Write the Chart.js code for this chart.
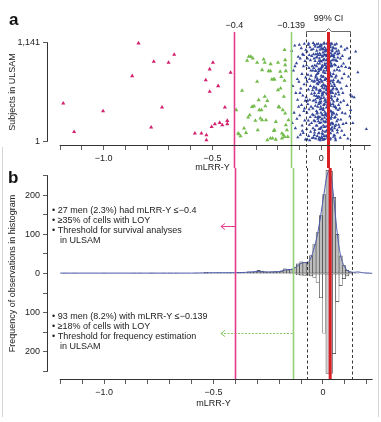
<!DOCTYPE html>
<html><head><meta charset="utf-8">
<script src="https://cdn.jsdelivr.net/npm/chart.js@4.4.1/dist/chart.umd.min.js"></script>
<style>
html,body{margin:0;padding:0;background:#fff;}
#fig{position:relative;width:381px;height:422px;overflow:hidden;font-family:'Liberation Sans',Arial,sans-serif;}
#fig canvas{position:absolute;left:0;top:0;}
.lbl{position:absolute;font-weight:bold;font-size:17px;line-height:17px;color:#111;}
.frame{position:absolute;background:#d6d6d6;width:1px;}
</style></head>
<body>
<div id="fig">
<div class="frame" style="left:2px;top:147px;height:270px"></div>
<div class="frame" style="left:378px;top:0;height:417px"></div>
<canvas id="chartA" width="381" height="185"></canvas>
<canvas id="chartB" width="381" height="422"></canvas>
<div class="lbl" style="left:9px;top:11px">a</div>
<div class="lbl" style="left:8px;top:169px">b</div>
</div>
<script>
// ---------- DATA ----------
const xTicks = [-1.2,-1.1,-1.0,-0.9,-0.8,-0.7,-0.6,-0.5,-0.4,-0.3,-0.2,-0.1,0,0.1,0.2];
const labeledTicks = [-1.0,-0.5,0];
const labeledText = ['\u22121.0','\u22120.5','0'];
const subjectTicks = [1,1141];
const subjectTickText = ['1','1,141'];
const freqTicks = [-250,-200,-150,-100,-50,0,50,100,150,200,250];

const lossThresholds = [-0.4,-0.139];
const thresholdText = ['\u22120.4','\u22120.139'];
const ciBounds = [-0.072,0.134];
const ciText = '99% CI';
const medianLRR = 0.033;

// panel a: subjects (mLRR-Y, subject index)
const magentaX = [-1.186,-1.136,-1.003,-0.869,-0.840,-0.782,-0.770,-0.732,-0.702,-0.676,-0.581,-0.551,-0.528,-0.528,-0.531,-0.513,-0.498,-0.513,-0.474,-0.504,-0.489,-0.467,-0.455,-0.443,-0.432,-0.432,-0.417];
const magentaY = [440,109,350,757,1138,160,924,393,913,1006,90,90,13,71,710,835,913,575,641,167,199,214,187,393,237,200,796];

const greenX = [-0.391,-0.382,-0.371,-0.364,-0.355,-0.346,-0.341,-0.333,-0.324,-0.315,-0.318,-0.309,-0.303,-0.295,-0.295,-0.292,-0.288,-0.285,-0.275,-0.272,-0.265,-0.260,-0.260,-0.257,-0.254,-0.248,-0.242,-0.234,-0.233,-0.227,-0.219,-0.215,-0.248,-0.234,-0.224,-0.215,-0.209,-0.199,-0.199,-0.196,-0.193,-0.189,-0.187,-0.184,-0.181,-0.177,-0.174,-0.169,-0.166,-0.166,-0.163,-0.169,-0.172,-0.166,-0.163,-0.158,-0.154,-0.151,-0.169,-0.181,-0.209,-0.218,-0.272,-0.280,-0.329,-0.336,-0.379];
const greenY = [362,90,59,587,148,98,935,982,982,963,400,408,238,912,691,129,478,362,362,245,951,912,517,408,245,470,815,815,897,718,718,718,13,32,32,129,20,912,594,400,393,808,614,749,32,362,71,1060,943,885,815,703,517,323,187,129,51,245,51,90,226,121,827,265,303,276,82];

const blueX = [
-0.136,-0.131,-0.128,-0.125,-0.122,-0.119,-0.117,-0.114,-0.112,-0.110,-0.108,-0.106,-0.104,-0.103,-0.101,-0.133,-0.121,-0.109,
-0.099,-0.097,-0.096,-0.094,-0.092,-0.091,-0.089,-0.088,-0.086,-0.085,-0.083,-0.082,-0.080,-0.079,-0.078,-0.076,-0.075,-0.074,-0.073,-0.072,-0.071,-0.098,-0.087,-0.081,-0.077,
-0.069,-0.068,-0.067,-0.066,-0.066,-0.065,-0.064,-0.063,-0.062,-0.061,-0.060,-0.060,-0.059,-0.058,-0.057,-0.056,-0.055,-0.055,-0.054,-0.053,-0.052,-0.051,-0.050,-0.050,-0.049,-0.048,-0.047,-0.046,-0.045,-0.045,-0.044,-0.043,-0.042,-0.042,-0.041,-0.040,-0.058,-0.063,-0.047,-0.053,
-0.039,-0.038,-0.037,-0.036,-0.035,-0.034,-0.033,-0.032,-0.031,-0.030,-0.029,-0.028,-0.027,-0.026,-0.025,-0.024,-0.023,-0.022,-0.021,-0.020,-0.019,-0.018,-0.017,-0.016,-0.015,-0.014,-0.013,-0.012,-0.011,-0.010,
-0.0385,-0.0375,-0.0365,-0.0355,-0.0345,-0.0335,-0.0325,-0.0315,-0.0305,-0.0295,-0.0285,-0.0275,-0.0265,-0.0255,-0.0245,-0.0235,-0.0225,-0.0215,-0.0205,-0.0195,-0.0185,-0.0175,-0.0165,-0.0155,-0.0145,-0.0135,-0.0125,-0.0115,-0.0105,-0.0102,
-0.037,-0.034,-0.031,-0.027,-0.024,-0.021,-0.018,-0.015,-0.012,-0.011,
-0.009,-0.008,-0.007,-0.006,-0.005,-0.004,-0.003,-0.002,-0.001,0,0.001,0.002,0.003,0.004,0.005,0.006,0.007,0.008,0.009,0.010,0.011,0.012,0.013,0.014,0.015,0.016,0.017,0.018,0.019,0.020,
-0.0095,-0.0085,-0.0075,-0.0065,-0.0055,-0.0045,-0.0035,-0.0025,-0.0015,-0.0005,0.0005,0.0015,0.0025,0.0035,0.0045,0.0055,0.0065,0.0075,0.0085,0.0095,0.0105,0.0115,0.0125,0.0135,0.0145,0.0155,0.0165,0.0175,0.0185,0.0195,
-0.0087,-0.0077,-0.0067,-0.0057,-0.0047,-0.0037,-0.0027,-0.0017,-0.0007,0.0003,0.0013,0.0023,0.0033,0.0043,0.0053,0.0063,0.0073,0.0083,0.0093,0.0103,0.0113,0.0123,0.0133,0.0143,0.0153,0.0163,0.0173,0.0183,0.0193,0.0203,
0.021,0.022,0.023,0.024,0.025,0.026,0.027,0.028,0.029,0.030,0.031,0.032,0.033,0.034,0.035,0.036,0.037,0.038,0.039,0.040,0.041,0.042,0.043,0.044,0.045,0.046,0.047,0.048,0.049,0.050,
0.0205,0.0215,0.0225,0.0235,0.0245,0.0255,0.0265,0.0275,0.0285,0.0295,0.0305,0.0315,0.0325,0.0335,0.0345,0.0355,0.0365,0.0375,0.0385,0.0395,0.0405,0.0415,0.0425,0.0435,0.0445,0.0455,0.0465,0.0475,0.0485,0.0495,
0.0213,0.0223,0.0233,0.0243,0.0253,0.0263,0.0273,0.0283,0.0293,0.0303,0.0313,0.0323,0.0333,0.0343,0.0353,0.0363,0.0373,0.0383,0.0393,0.0403,0.0413,0.0423,0.0433,0.0443,0.0453,0.0463,0.0473,0.0483,0.0493,0.0503,
0.051,0.052,0.053,0.054,0.055,0.056,0.057,0.058,0.059,0.060,0.061,0.062,0.063,0.064,0.065,0.066,0.067,0.068,0.069,0.070,0.071,0.072,0.073,0.074,0.075,0.076,0.077,0.078,0.079,0.080,
0.0505,0.0515,0.0525,0.0535,0.0545,0.0555,0.0565,0.0575,0.0585,0.0595,0.0605,0.0615,0.0625,0.0635,0.0645,0.0655,0.0665,0.0675,0.0685,0.0695,0.0705,0.0715,0.0725,0.0735,0.0745,0.0755,0.0765,0.0775,0.0785,0.0795,
0.081,0.082,0.083,0.084,0.085,0.086,0.087,0.088,0.089,0.090,0.091,0.092,0.093,0.094,0.095,0.096,0.097,0.099,0.100,0.102,0.103,0.105,0.106,0.108,0.110,
0.112,0.114,0.116,0.118,0.120,0.122,0.125,0.128,0.131,0.134,
0.135,0.142,0.145,0.151,0.158,0.168,0.207,0.128,
-0.0195,-0.0172,-0.0148,-0.0126,-0.0104,-0.0081,-0.0058,-0.0036,-0.0013,0.0009,0.0031,0.0054,0.0077,0.0099,0.0122,0.0144,0.0167,0.0189,0.0211,0.0234,0.0256,0.0279,0.0301,0.0324,0.0346,0.0369,0.0391,0.0414,0.0436,0.0459,
0.0481,0.0503,0.0526,0.0548,0.0571,0.0593,0.0616,-0.0183,-0.0137,-0.0092,-0.0047,-0.0002,0.0043,0.0088,0.0133,0.0178,0.0223,0.0268,0.0313,0.0358,0.0403,0.0448,0.0493,0.0538,0.0583,0.0628,-0.0228,-0.0256,0.0651,0.0674];
const blueY = [
1050,640,820,330,1110,150,560,905,260,720,45,980,400,690,1120,210,870,480,
300,960,75,610,1080,420,780,180,1010,530,95,870,350,660,1130,240,930,470,20,740,1060,560,120,1000,380,
510,880,140,1040,330,690,20,960,430,770,240,1120,600,60,850,370,1000,190,720,480,1090,280,640,940,110,820,400,1060,550,210,990,700,35,870,310,590,1135,470,760,10,
820,150,470,1010,300,690,960,70,560,880,230,1100,410,740,30,620,970,350,1050,180,780,500,900,260,660,1130,90,430,810,590,
380,1070,620,40,850,240,530,1120,700,130,930,480,280,1010,760,180,600,870,320,980,60,710,400,1090,520,230,1000,690,140,930,
1140,630,100,820,450,1125,330,790,560,20,
510,900,140,1060,370,720,30,830,460,1110,250,640,980,90,560,870,300,1030,180,750,420,950,60,610,1090,340,790,220,1000,480,
40,680,1020,280,580,930,150,400,1120,760,500,50,860,310,690,1070,120,540,940,380,20,820,650,1140,270,470,900,110,720,1050,
960,210,590,840,10,440,1000,330,700,160,1080,530,260,880,620,80,990,360,800,1130,230,570,950,430,710,25,1040,300,850,640,
730,60,390,1000,250,870,540,130,960,420,1100,300,680,20,810,470,1060,190,590,930,350,760,90,1020,500,210,880,640,1130,330,
1070,450,170,820,610,1130,290,720,40,950,510,240,860,1040,370,650,100,980,560,200,790,1110,430,30,700,900,280,520,1000,160,
320,940,590,120,850,1050,450,230,700,1000,80,620,360,910,1120,190,540,780,20,670,1090,410,870,260,580,990,140,750,480,1060,
600,210,990,430,780,50,1080,320,660,890,150,520,1020,280,740,10,940,380,610,1130,230,830,470,100,690,970,360,570,1050,190,
940,120,560,1090,330,710,460,1000,70,820,270,640,1120,400,30,880,550,190,760,1040,310,930,600,130,490,1010,250,700,860,420,
540,1020,160,820,380,680,40,960,450,250,1100,610,870,120,730,330,990,560,200,900,470,780,70,1060,320,
860,210,640,1080,420,30,750,960,290,540,
362,517,210,509,1040,800,140,850,
670,1015,285,835,95,455,1105,590,215,925,375,745,15,1065,505,165,885,315,635,985,55,425,795,1125,245,695,915,135,565,345,
870,1045,195,615,405,975,65,725,275,1095,485,845,35,655,1005,225,555,905,115,765,435,1135,305,685,945,175,525,815,395,1075];

// panel b: histogram (bin centres, counts)
const histCenters = [-1.179,-1.134,-0.999,-0.864,-0.834,-0.789,-0.774,-0.729,-0.699,-0.669,-0.579,-0.549,-0.534,-0.519,-0.504,-0.489,-0.474,-0.459,-0.444,-0.429,-0.414,
-0.384,-0.369,-0.354,-0.339,-0.324,-0.309,-0.294,-0.279,-0.264,-0.249,-0.234,-0.219,-0.204,-0.189,-0.174,-0.159,
-0.144,-0.129,-0.114,-0.099,-0.084,-0.069,-0.054,-0.039,-0.024,-0.009,0.006,0.021,0.036,0.051,0.066,0.081,0.096,0.111,0.126,0.141,0.156,0.201];
const histCounts = [1,1,1,1,1,1,1,1,1,1,1,1,3,2,2,1,2,1,1,2,1,
3,2,2,4,3,4,8,6,4,3,4,5,4,6,12,9,
10,15,25,30,28,27,46,74,105,148,202,264,262,195,100,45,20,8,4,2,1,1];
const lowerCenters = [-0.144,-0.129,-0.114,-0.099,-0.084,-0.069,-0.054,-0.039,-0.024,-0.009,0.006,0.021,0.036,0.051,0.066,0.081,0.096,0.111,0.126];
const lowerCounts = [1,2,3,4,5,4,6,10,23,62,153,256,256,205,72,31,13,6,2];
const densityX = [-1.2,-1.0,-0.8,-0.6,-0.5,-0.4,-0.35,-0.3,-0.27,-0.23,-0.2,-0.18,-0.16,-0.14,-0.12,-0.1,-0.085,-0.07,-0.055,-0.04,-0.025,-0.01,0.005,0.018,0.028,0.038,0.05,0.062,0.075,0.09,0.105,0.12,0.14,0.16,0.18,0.21,0.225];
const densityY = [1,1,1,1,2,2,3,5,4,4,5,8,10,11,18,26,28,28,40,66,100,150,205,250,262,245,190,120,62,28,12,5,3,4,2,1,0.5];

const noteUpper = ['\u2022 27 men (2.3%) had mLRR-Y \u2264\u22120.4','\u2022 \u226535% of cells with LOY','\u2022 Threshold for survival analyses','in ULSAM'];
const noteLower = ['\u2022 93 men (8.2%) with mLRR-Y \u2264\u22120.139','\u2022 \u226518% of cells with LOY','\u2022 Threshold for frequency estimation','in ULSAM'];

// ---------- STYLE ----------
const FONT = "'Liberation Sans', Arial, sans-serif";
Chart.defaults.font.family = FONT;
Chart.defaults.font.size = 9;
Chart.defaults.color = '#222';
const C_MAG = '#e23c8b', C_MAGPT = '#d3206f', C_GRN = '#95d074', C_GRNPT = '#74bb4e', C_BLUE = '#34479a', C_RED = '#d91f26';
const JOIN_Y = 168;

function xLabel(v) {
  for (let i = 0; i < labeledTicks.length; i++) if (Math.abs(v - labeledTicks[i]) < 1e-6) return labeledText[i];
  return '';
}
function pts(xs, ys) { const n = Math.min(xs.length, ys.length); const o = []; for (let i = 0; i < n; i++) o.push({x: xs[i], y: ys[i]}); return o; }

function drawVLines(ctx, xs, ySolid, yDash, yEnd) {
  const px = v => Math.round(xs.getPixelForValue(v)) + 0.5;
  ctx.save();
  ctx.lineWidth = 1.6;
  ctx.strokeStyle = C_MAG;
  ctx.beginPath(); ctx.moveTo(px(lossThresholds[0]), ySolid); ctx.lineTo(px(lossThresholds[0]), yEnd); ctx.stroke();
  ctx.strokeStyle = C_GRN;
  ctx.beginPath(); ctx.moveTo(px(lossThresholds[1]), ySolid); ctx.lineTo(px(lossThresholds[1]), yEnd); ctx.stroke();
  ctx.strokeStyle = '#222'; ctx.lineWidth = 0.9; ctx.setLineDash([3, 2.5]);
  ciBounds.forEach(v => { ctx.beginPath(); ctx.moveTo(px(v), yDash); ctx.lineTo(px(v), yEnd); ctx.stroke(); });
  ctx.setLineDash([]);
  ctx.strokeStyle = C_RED; ctx.lineWidth = 3;
  ctx.beginPath(); ctx.moveTo(xs.getPixelForValue(medianLRR), ySolid); ctx.lineTo(xs.getPixelForValue(medianLRR), yEnd); ctx.stroke();
  ctx.restore();
}

const axisLines = {
  id: 'axisLines',
  afterDraw(chart, args, opts) {
    const {ctx, chartArea, scales: {x, y}} = chart;
    ctx.save(); ctx.strokeStyle = '#333'; ctx.lineWidth = 1;
    const yb = chartArea.bottom + 0.5;
    ctx.beginPath(); ctx.moveTo(x.getPixelForValue(xTicks[0]) - 0.5, yb); ctx.lineTo(x.getPixelForValue(opts.xEnd), yb); ctx.stroke();
    const xl = chartArea.left - 0.5;
    ctx.beginPath(); ctx.moveTo(xl, y.getPixelForValue(opts.yFrom)); ctx.lineTo(xl, y.getPixelForValue(opts.yTo)); ctx.stroke();
    ctx.restore();
  }
};

const overlayA = {
  id: 'overlayA',
  afterDatasetsDraw(chart) {
    const {ctx, scales: {x}} = chart;
    drawVLines(ctx, x, 32, 34, JOIN_Y);
    ctx.save();
    ctx.fillStyle = '#222'; ctx.font = '9px ' + FONT; ctx.textAlign = 'center'; ctx.textBaseline = 'middle';
    lossThresholds.forEach((v, i) => ctx.fillText(thresholdText[i], x.getPixelForValue(v), 26));
    const xm = x.getPixelForValue(medianLRR);
    ctx.fillText(ciText, xm, 19);
    const xl = Math.round(x.getPixelForValue(ciBounds[0])) + 0.5, xr = Math.round(x.getPixelForValue(ciBounds[1])) + 0.5;
    ctx.strokeStyle = '#444'; ctx.lineWidth = 0.8;
    ctx.beginPath(); ctx.moveTo(xl, 36); ctx.lineTo(xl, 31.5); ctx.lineTo(xm - 3, 31.5); ctx.lineTo(xm, 28.5); ctx.lineTo(xm + 3, 31.5); ctx.lineTo(xr, 31.5); ctx.lineTo(xr, 36); ctx.stroke();
    ctx.restore();
  }
};

function arrow(ctx, x0, x1, y, color, dash) {
  ctx.save(); ctx.strokeStyle = color; ctx.lineWidth = 1; ctx.setLineDash(dash);
  ctx.beginPath(); ctx.moveTo(x0, y); ctx.lineTo(x1, y); ctx.stroke();
  ctx.setLineDash([]);
  ctx.beginPath(); ctx.moveTo(x1 + 4, y - 3); ctx.lineTo(x1, y); ctx.lineTo(x1 + 4, y + 3); ctx.stroke();
  ctx.restore();
}

const overlayB = {
  id: 'overlayB',
  afterDatasetsDraw(chart) {
    const {ctx, chartArea, scales: {x, y}} = chart;
    const tipX = x.getPixelForValue(-0.466);
    arrow(ctx, x.getPixelForValue(lossThresholds[0]), tipX, Math.round(y.getPixelForValue(122)) + 0.5, C_MAG, []);
    arrow(ctx, x.getPixelForValue(lossThresholds[1]), tipX, Math.round(y.getPixelForValue(-152)) + 0.5, '#86c663', [2, 1.5]);
    drawVLines(ctx, x, chartArea.top, chartArea.top, chartArea.bottom);
    ctx.save();
    ctx.fillStyle = '#222'; ctx.font = '9px ' + FONT; ctx.textAlign = 'left'; ctx.textBaseline = 'middle';
    const drawNote = (lines, y0) => lines.forEach((t, i) => ctx.fillText(t, i === 3 ? 60 : 52, y0 + i * 10));
    drawNote(noteUpper, y.getPixelForValue(160));
    drawNote(noteLower, y.getPixelForValue(-111));
    ctx.restore();
  }
};

const gridCfg = {drawOnChartArea: false, drawTicks: true, tickLength: 5, color: '#333', lineWidth: 0.8, offset: false};

function xScale(h, titlePadBottom) {
  return {
    type: 'linear', min: -1.256, max: 0.256, offset: false,
    afterBuildTicks: s => { s.ticks = xTicks.map(v => ({value: v})); },
    afterFit: s => { s.height = h; },
    ticks: {autoSkip: false, maxRotation: 0, padding: 3, callback: v => xLabel(v), color: '#222', font: {size: 9}},
    grid: gridCfg, border: {display: false},
    title: {display: true, text: 'mLRR-Y', color: '#222', font: {size: 9}, padding: {top: 0, bottom: titlePadBottom}}
  };
}

new Chart(document.getElementById('chartA'), {
  type: 'scatter',
  data: {datasets: [
    {data: pts(magentaX, magentaY), pointStyle: 'triangle', pointRadius: 2.4, backgroundColor: C_MAGPT, borderWidth: 0},
    {data: pts(greenX, greenY), pointStyle: 'triangle', pointRadius: 2.4, backgroundColor: C_GRNPT, borderWidth: 0},
    {data: pts(blueX, blueY), pointStyle: 'triangle', pointRadius: 1.9, backgroundColor: C_BLUE, borderWidth: 0}
  ]},
  options: {
    responsive: false, animation: false, events: [],
    layout: {padding: {left: 0, right: 2, top: 39, bottom: 10}},
    plugins: {legend: {display: false}, tooltip: {enabled: false}, axisLines: {xEnd: 0.227, yFrom: 1, yTo: 1141}},
    scales: {
      x: xScale(30, 1.6),
      y: {
        type: 'linear', min: -44.6, max: 1186.6,
        afterBuildTicks: s => { s.ticks = subjectTicks.map(v => ({value: v})); },
        afterFit: s => { s.width = 48; },
        ticks: {autoSkip: false, padding: 3, color: '#222', font: {size: 9}, callback: v => { const i = subjectTicks.indexOf(v); return i >= 0 ? subjectTickText[i] : ''; }},
        grid: gridCfg, border: {display: false},
        title: {display: true, text: 'Subjects in ULSAM', color: '#222', font: {size: 9}, padding: {top: 7.6, bottom: 0}}
      }
    }
  },
  plugins: [axisLines, overlayA]
});

new Chart(document.getElementById('chartB'), {
  type: 'bar',
  data: {datasets: [
    {type: 'line', data: pts(densityX, densityY), borderColor: '#4b5bab', borderWidth: 1, pointRadius: 0, cubicInterpolationMode: 'monotone', fill: false, order: 0},
    {type: 'bar', data: pts(histCenters, histCounts), backgroundColor: '#bdbdbd', borderColor: '#3a3a3a', borderWidth: 0.6, borderSkipped: false, barPercentage: 1, categoryPercentage: 1, grouped: false, order: 1},
    {type: 'bar', data: pts(lowerCenters, lowerCounts.map(c => -c)), backgroundColor: ctx => (ctx.raw && Math.abs(ctx.raw.x - 0.0285) < 0.01 ? '#d2d2d2' : '#ffffff'), borderColor: '#3a3a3a', borderWidth: 0.6, borderSkipped: false, barPercentage: 1, categoryPercentage: 1, grouped: false, order: 2}
  ]},
  options: {
    responsive: false, animation: false, events: [],
    layout: {padding: {left: 0, right: 2, top: JOIN_Y, bottom: 0}},
    plugins: {legend: {display: false}, tooltip: {enabled: false}, axisLines: {xEnd: 0.227, yFrom: -250, yTo: 250}},
    scales: {
      x: xScale(43, 12.6),
      y: {
        type: 'linear', min: -270, max: 270,
        afterBuildTicks: s => { s.ticks = freqTicks.map(v => ({value: v})); },
        afterFit: s => { s.width = 48; },
        ticks: {autoSkip: false, padding: 3, color: '#222', font: {size: 9}, callback: v => (Math.abs(v) % 100 === 0 ? String(Math.abs(v)) : '')},
        grid: gridCfg, border: {display: false},
        title: {display: true, text: 'Frequency of observations in histogram', color: '#222', font: {size: 9}, padding: {top: 7.6, bottom: 0}}
      }
    }
  },
  plugins: [axisLines, overlayB]
});
</script>
</body></html>
